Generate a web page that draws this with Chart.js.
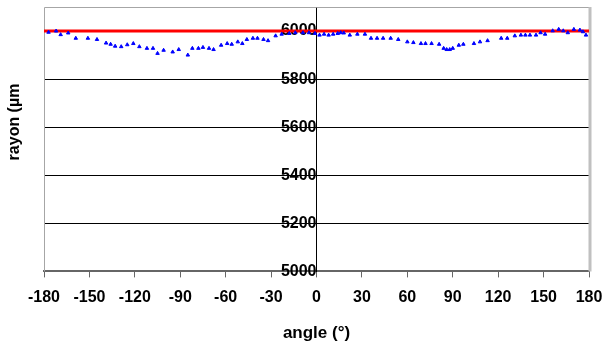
<!DOCTYPE html>
<html>
<head>
<meta charset="utf-8">
<script src="https://cdn.jsdelivr.net/npm/chart.js@4.4.1/dist/chart.umd.min.js"></script>
<style>
    body { margin: 0; background: #fff; }
    #wrap { width: 605px; height: 345px; }
</style>
</head>
<body>
<div id="wrap"><canvas id="grafico"></canvas></div>
<script>
// dati
var angoli = [-177, -172, -169, -164, -159, -151, -145, -139, -136, -133, -129, -125, -121, -117, -112, -108, -105, -101, -95, -91,
    -85, -82, -78, -75, -71, -68, -63, -59, -56, -52, -49, -46, -42, -39, -35, -32, -27, -23, -18, -14,
    -9, -5, -1, 2, 5, 8, 11, 14, 16, 18, 22, 27, 32, 36, 40, 44, 49, 54, 60, 64,
    69, 72, 76, 81, 84, 86, 88, 90, 94, 97, 104, 108, 113, 122, 126, 131, 135, 138, 141, 145,
    148, 151, 156, 160, 163, 166, 170, 174, 176, 178];
var raggi = [5995, 6000, 5985, 5992, 5970, 5970, 5965, 5950, 5945, 5937, 5935, 5943, 5948, 5935, 5928, 5928, 5907, 5920, 5913, 5923,
    5900, 5928, 5928, 5932, 5928, 5923, 5941, 5948, 5945, 5955, 5948, 5965, 5970, 5970, 5965, 5960, 5980, 5987, 5990, 5993,
    5993, 5993, 5990, 5983, 5987, 5983, 5987, 5990, 5993, 5992, 5983, 5987, 5987, 5970, 5970, 5970, 5970, 5965, 5955, 5952,
    5948, 5948, 5948, 5945, 5928, 5923, 5923, 5928, 5941, 5945, 5948, 5955, 5960, 5970, 5970, 5980, 5983, 5983, 5983, 5983,
    5993, 5987, 6001, 6007, 6001, 5993, 6007, 6004, 5997, 5983];
var angoliNominale = [-180, 180];
var raggioNominale = [6000, 6000];
var ticksX = [-180, -150, -120, -90, -60, -30, 0, 30, 60, 90, 120, 150, 180];
var ticksY = [5000, 5200, 5400, 5600, 5800, 6000];

function punti(xs, ys) {
    var out = [];
    for (var i = 0; i < xs.length; i++) {
        out.push({ x: xs[i], y: ys[i] });
    }
    return out;
}

function senzaPadding(s) {
    s.paddingTop = 0;
    s.paddingBottom = 0;
    s.paddingLeft = 0;
    s.paddingRight = 0;
}

// bordo grigio + titolo asse y
var cornice = {
    id: 'cornice',
    beforeDatasetsDraw: function (chart) {
        var a = chart.chartArea;
        var ctx = chart.ctx;
        ctx.save();
        ctx.strokeStyle = '#a6a6a6';
        ctx.lineWidth = 1;
        ctx.beginPath();
        ctx.moveTo(a.left + 0.5, a.bottom);
        ctx.lineTo(a.left + 0.5, a.top + 0.5);
        ctx.lineTo(a.right, a.top + 0.5);
        ctx.stroke();
        ctx.strokeStyle = '#c0c0c0';
        ctx.lineWidth = 3;
        ctx.beginPath();
        ctx.moveTo(a.right + 1, a.top);
        ctx.lineTo(a.right + 1, a.bottom);
        ctx.stroke();
        ctx.restore();
    },
    afterDraw: function (chart) {
        var ctx = chart.ctx;
        ctx.save();
        ctx.translate(15, 122);
        ctx.rotate(-Math.PI / 2);
        ctx.font = 'bold 16px "Liberation Sans", Arial, sans-serif';
        ctx.fillStyle = '#000';
        ctx.textAlign = 'center';
        ctx.textBaseline = 'middle';
        ctx.fillText('rayon (µm', 0, 0);
        ctx.restore();
    }
};

var font = { family: '"Liberation Sans", Arial, sans-serif', size: 16, weight: 'bold' };

var chart = new Chart(document.getElementById('grafico'), {
    type: 'scatter',
    data: {
        datasets: [{
            label: 'mesure',
            data: punti(angoli, raggi),
            pointStyle: 'triangle',
            pointRadius: 2,
            backgroundColor: '#0000ff',
            borderColor: '#0000ff',
            borderWidth: 1,
            showLine: false
        },
        {
            label: 'nominal',
            data: punti(angoliNominale, raggioNominale),
            showLine: true,
            borderColor: '#ff0000',
            borderWidth: 3,
            pointRadius: 0
        }]
    },
    options: {
        responsive: true,
        maintainAspectRatio: false,
        animation: false,
        layout: { padding: { left: 44, right: 16, top: 7, bottom: 0 } },
        plugins: {
            legend: { display: false },
            tooltip: { enabled: false }
        },
        scales: {
            x: {
                type: 'linear',
                min: -180,
                max: 180,
                afterBuildTicks: function (s) {
                    s.ticks = ticksX.map(function (v) { return { value: v }; });
                },
                afterFit: senzaPadding,
                grid: { drawOnChartArea: false, color: '#666', tickLength: 6 },
                border: { color: '#666', width: 2 },
                ticks: { font: font, color: '#000', padding: 11, maxRotation: 0, autoSkip: false },
                title: {
                    display: true,
                    text: 'angle (°)',
                    font: { family: font.family, size: 17, weight: 'bold' },
                    color: '#000',
                    padding: { top: 5, bottom: 1 }
                }
            },
            y: {
                type: 'linear',
                position: { x: 0 },
                min: 5000,
                max: 6100,
                afterBuildTicks: function (s) {
                    s.ticks = ticksY.map(function (v) { return { value: v }; });
                },
                afterFit: senzaPadding,
                grid: { color: '#000', lineWidth: 1, tickLength: 5 },
                border: { color: '#000', width: 1 },
                ticks: {
                    font: font,
                    color: '#000',
                    padding: 6,
                    callback: function (v) { return String(v); }
                }
            }
        }
    },
    plugins: [cornice]
});
</script>
</body>
</html>
